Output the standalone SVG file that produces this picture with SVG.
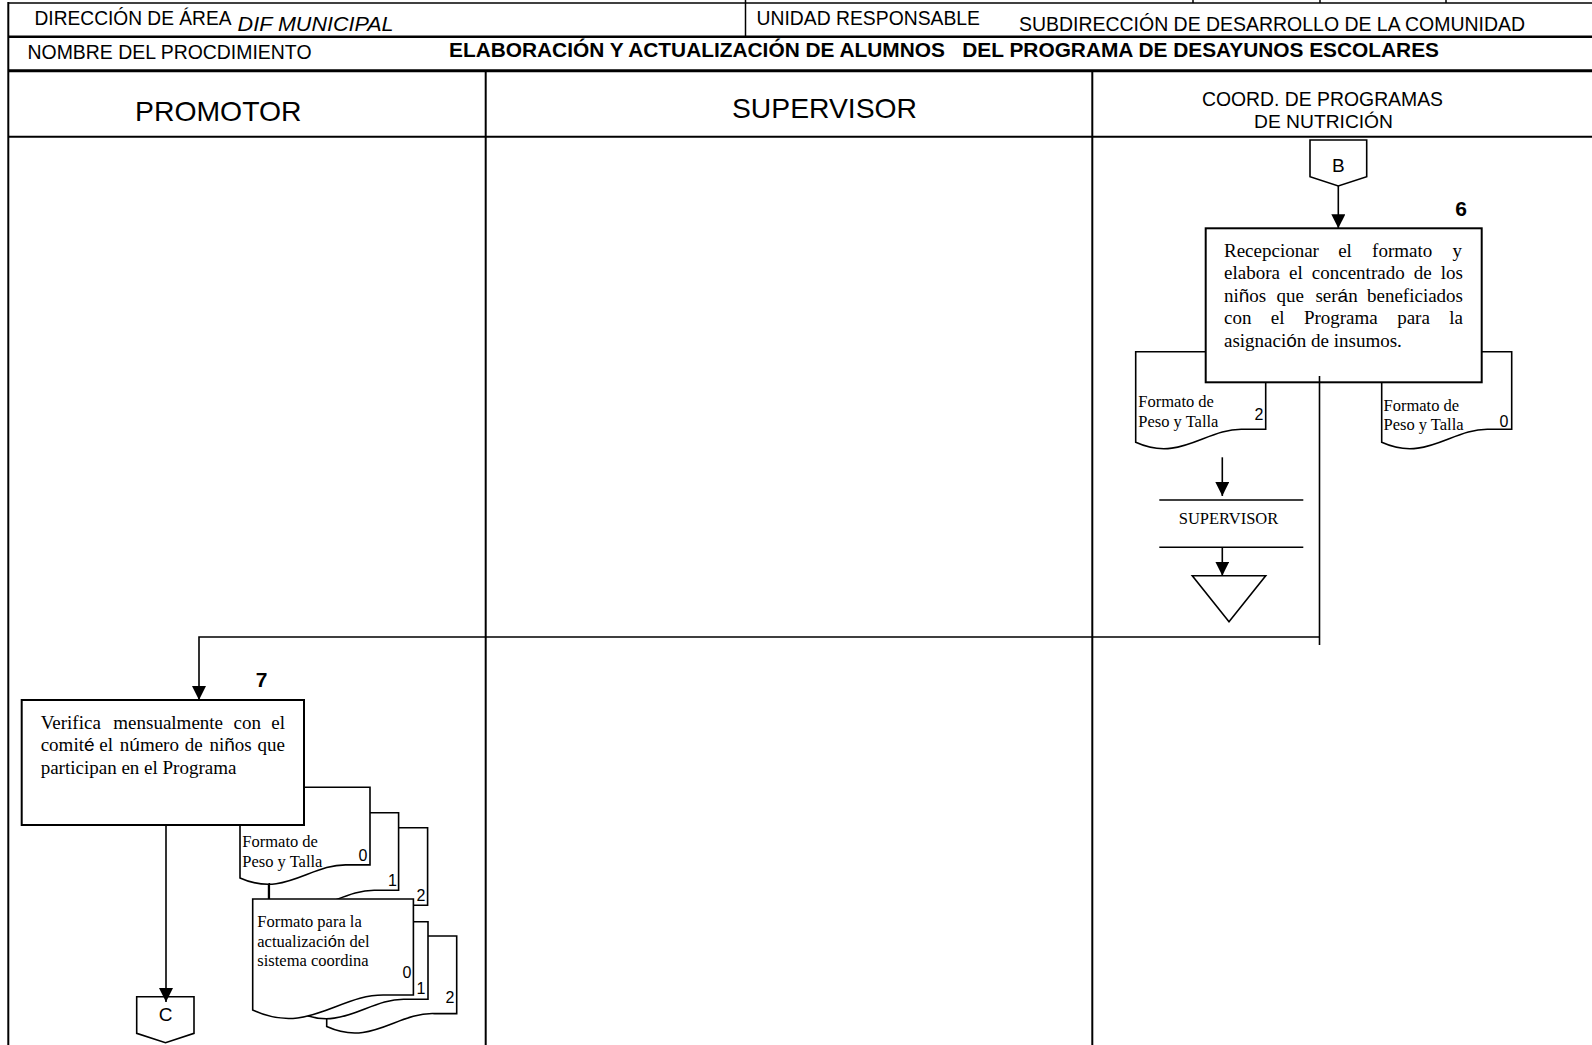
<svg xmlns="http://www.w3.org/2000/svg" xmlns:xlink="http://www.w3.org/1999/xlink" width="1592" height="1045" viewBox="0 0 1592 1045">
  <style>
    .frame { stroke: #000; fill: none; }
    .sans { font-family: "Liberation Sans", Arial, sans-serif; fill: #000; }
    .serif { font-family: "Liberation Serif", "Times New Roman", serif; fill: #000; }
    .acc { font-family: "Liberation Sans", Arial, sans-serif; }
    .box { fill: #fff; stroke: #000; stroke-width: 2; }
    .doc { fill: #fff; stroke: #000; stroke-width: 1.6; }
    .conn { fill: none; stroke: #000; stroke-width: 1.6; }
    .step { font-family: "Liberation Sans", Arial, sans-serif; font-weight: bold; font-size: 21px; }
    .num { font-family: "Liberation Sans", Arial, sans-serif; font-size: 16px; text-anchor: end; }
    .body { font-family: "Liberation Serif", "Times New Roman", serif; font-size: 19px; }
    .small { font-family: "Liberation Serif", "Times New Roman", serif; font-size: 16.5px; }
  </style>
  <defs>
    <marker id="arrow" markerUnits="userSpaceOnUse" markerWidth="15" markerHeight="15" refX="14" refY="7" orient="auto">
      <path d="M0,0 L14,7 L0,14 Z" fill="#000"/>
    </marker>
    <!-- standard document symbol, 130 wide -->
    <path id="docShape" d="M0,0 H130 V77.6 H108 C70,76 45,111 0,90.6 Z"/>
  </defs>

  <rect width="1592" height="1045" fill="#fff"/>

  <!-- header table -->
  <g id="header">
    <line class="frame" x1="8.3" y1="3" x2="1592" y2="3" stroke-width="1.5"/>
    <line class="frame" x1="8.3" y1="36.7" x2="1592" y2="36.7" stroke-width="2.5"/>
    <line class="frame" x1="8.3" y1="70.7" x2="1592" y2="70.7" stroke-width="3"/>
    <line class="frame" x1="8.3" y1="136.7" x2="1592" y2="136.7" stroke-width="2"/>
    <line class="frame" x1="8.3" y1="2" x2="8.3" y2="1045" stroke-width="2"/>
    <line class="frame" x1="745.5" y1="0" x2="745.5" y2="36.7" stroke-width="1.5"/>
    <line class="frame" x1="1193" y1="0" x2="1193" y2="3" stroke-width="1.5"/>
    <line class="frame" x1="1320" y1="0" x2="1320" y2="3" stroke-width="1.5"/>
    <line class="frame" x1="1446" y1="0" x2="1446" y2="3" stroke-width="1.5"/>
    <line class="frame" x1="485.7" y1="70.7" x2="485.7" y2="1045" stroke-width="2"/>
    <line class="frame" x1="1092.3" y1="70.7" x2="1092.3" y2="1045" stroke-width="2"/>

    <text class="sans" x="34.5" y="25" font-size="19.5" textLength="197" lengthAdjust="spacingAndGlyphs">DIRECCIÓN DE ÁREA</text>
    <text class="sans" x="237.6" y="30.5" font-size="20" font-style="italic" textLength="156" lengthAdjust="spacingAndGlyphs">DIF MUNICIPAL</text>
    <text class="sans" x="756.5" y="24.5" font-size="19.5" textLength="223.5" lengthAdjust="spacingAndGlyphs">UNIDAD RESPONSABLE</text>
    <text class="sans" x="1019" y="30.5" font-size="19.5" textLength="506" lengthAdjust="spacingAndGlyphs">SUBDIRECCIÓN DE DESARROLLO DE LA COMUNIDAD</text>
    <text class="sans" x="27.5" y="59" font-size="19.5" textLength="284" lengthAdjust="spacingAndGlyphs">NOMBRE DEL PROCDIMIENTO</text>
    <text class="sans" x="449" y="57" font-size="20" font-weight="bold" xml:space="preserve" textLength="990" lengthAdjust="spacingAndGlyphs">ELABORACIÓN Y ACTUALIZACIÓN DE ALUMNOS   DEL PROGRAMA DE DESAYUNOS ESCOLARES</text>

    <text class="sans" x="135" y="121" font-size="28.5" textLength="166.5" lengthAdjust="spacingAndGlyphs">PROMOTOR</text>
    <text class="sans" x="732" y="118" font-size="28.5" textLength="185" lengthAdjust="spacingAndGlyphs">SUPERVISOR</text>
    <text class="sans" x="1202" y="105.5" font-size="19.5" textLength="241" lengthAdjust="spacingAndGlyphs">COORD. DE PROGRAMAS</text>
    <text class="sans" x="1254" y="128" font-size="19" textLength="139" lengthAdjust="spacingAndGlyphs">DE NUTRICIÓN</text>
  </g>

  <!-- COORD. DE PROGRAMAS DE NUTRICIÓN lane -->
  <g id="offpage-b">
    <path class="doc" d="M1310,140 H1366.7 V176.7 L1338.3,186 L1310,176.7 Z"/>
    <text class="sans" x="1338.3" y="172" font-size="19" text-anchor="middle">B</text>
  </g>

  <g id="doc-peso-talla-2">
    <use href="#docShape" class="doc" x="1135.7" y="351.7"/>
    <text class="small" x="1138.3" y="406.5">Formato de</text>
    <text class="small" x="1138.3" y="427">Peso y Talla</text>
    <text class="num" x="1263.5" y="420">2</text>
  </g>

  <g id="doc-peso-talla-0">
    <use href="#docShape" class="doc" x="1381.7" y="351.7"/>
    <text class="small" x="1383.5" y="410.5">Formato de</text>
    <text class="small" x="1383.5" y="430">Peso y Talla</text>
    <text class="num" x="1508.5" y="426.5">0</text>
  </g>

  <g id="step-6">
    <rect class="box" x="1205.7" y="228.3" width="276" height="154"/>
    <text class="step" x="1461" y="216" text-anchor="middle">6</text>
    <text class="body" y="256.5"><tspan x="1224">Recepcionar</tspan><tspan x="1338.2">el</tspan><tspan x="1372.1">formato</tspan><tspan x="1452.5">y</tspan></text>
    <text class="body" y="279"><tspan x="1224">elabora</tspan><tspan x="1289">el</tspan><tspan x="1311.8">concentrado</tspan><tspan x="1413.8">de</tspan><tspan x="1440.8">los</tspan></text>
    <text class="body" y="301.5"><tspan x="1224">ni<tspan class="acc">ñ</tspan>os</tspan><tspan x="1276.6">que</tspan><tspan x="1315.4">ser<tspan class="acc">á</tspan>n</tspan><tspan x="1367">beneficiados</tspan></text>
    <text class="body" y="324"><tspan x="1224">con</tspan><tspan x="1270.8">el</tspan><tspan x="1303.9">Programa</tspan><tspan x="1397.2">para</tspan><tspan x="1449.3">la</tspan></text>
    <text class="body" x="1224" y="346.5">asignaci<tspan class="acc">ó</tspan>n de insumos.</text>
  </g>

  <g id="transfer-supervisor">
    <line class="conn" x1="1159.3" y1="500" x2="1303.3" y2="500"/>
    <line class="conn" x1="1159.3" y1="547.3" x2="1303.3" y2="547.3"/>
    <text class="serif" x="1228.5" y="524" font-size="16.5" text-anchor="middle">SUPERVISOR</text>
  </g>

  <g id="archive">
    <path class="doc" d="M1192.3,575.7 H1265.7 L1229,621.7 Z"/>
  </g>

  <!-- PROMOTOR lane: documents stacked behind the step box -->
  <g id="doc-peso-talla-copies">
    <use href="#docShape" class="doc" x="297.6" y="827.7"/>
    <text class="num" x="425.5" y="901">2</text>
    <use href="#docShape" class="doc" x="268.6" y="812.7"/>
    <text class="num" x="397" y="886">1</text>
    <use href="#docShape" class="doc" x="240" y="787.3"/>
    <text class="small" x="242.3" y="846.7">Formato de</text>
    <text class="small" x="242.3" y="866.5">Peso y Talla</text>
    <text class="num" x="367.5" y="861">0</text>
  </g>

  <g id="doc-actualizacion">
    <use href="#docShape" class="doc" x="326.7" y="936"/>
    <text class="num" x="454.5" y="1003.3">2</text>
    <use href="#docShape" class="doc" x="298" y="921.7"/>
    <text class="num" x="425.5" y="994">1</text>
    <path class="doc" d="M252.7,899 H413.4 V995 H386.2 C339.2,993 308.3,1036.3 252.7,1010 Z"/>
    <text class="small" x="257.3" y="926.7">Formato para la</text>
    <text class="small" x="257.3" y="946.7">actualizaci<tspan class="acc">ó</tspan>n del</text>
    <text class="small" x="257.3" y="965.5">sistema coordina</text>
    <text class="num" x="411.5" y="978.3">0</text>
  </g>

  <g id="step-7">
    <rect class="box" x="21.7" y="700" width="282.3" height="125"/>
    <text class="step" x="261.5" y="687" text-anchor="middle">7</text>
    <text class="body" y="728.5"><tspan x="40.7">Verifica</tspan><tspan x="113.3">mensualmente</tspan><tspan x="233.5">con</tspan><tspan x="271.3">el</tspan></text>
    <text class="body" y="751"><tspan x="40.7">comit<tspan class="acc">é</tspan></tspan><tspan x="99.3">el</tspan><tspan x="119.8">n<tspan class="acc">ú</tspan>mero</tspan><tspan x="184.7">de</tspan><tspan x="209.5">ni<tspan class="acc">ñ</tspan>os</tspan><tspan x="257.5">que</tspan></text>
    <text class="body" x="40.7" y="773.5">participan en el Programa</text>
  </g>

  <g id="offpage-c">
    <path class="doc" d="M136.7,996.7 H194 V1033.3 L165.5,1042.7 L136.7,1033.3 Z"/>
    <text class="sans" x="165.5" y="1021" font-size="19" text-anchor="middle">C</text>
  </g>

  <!-- flow lines -->
  <g id="connectors">
    <line class="conn" x1="1338.3" y1="186" x2="1338.3" y2="228.3" marker-end="url(#arrow)"/>
    <line class="conn" x1="1319.5" y1="376" x2="1319.5" y2="645"/>
    <path class="conn" d="M1319.5,637 H199 V700" marker-end="url(#arrow)"/>
    <line class="conn" x1="1222.3" y1="457.3" x2="1222.3" y2="496" marker-end="url(#arrow)"/>
    <line class="conn" x1="1222.3" y1="547.3" x2="1222.3" y2="575.7" marker-end="url(#arrow)"/>
    <line class="conn" x1="166" y1="825" x2="166" y2="1002" marker-end="url(#arrow)"/>
    <line class="conn" x1="269.3" y1="883" x2="269.3" y2="899"/>
  </g>
</svg>
